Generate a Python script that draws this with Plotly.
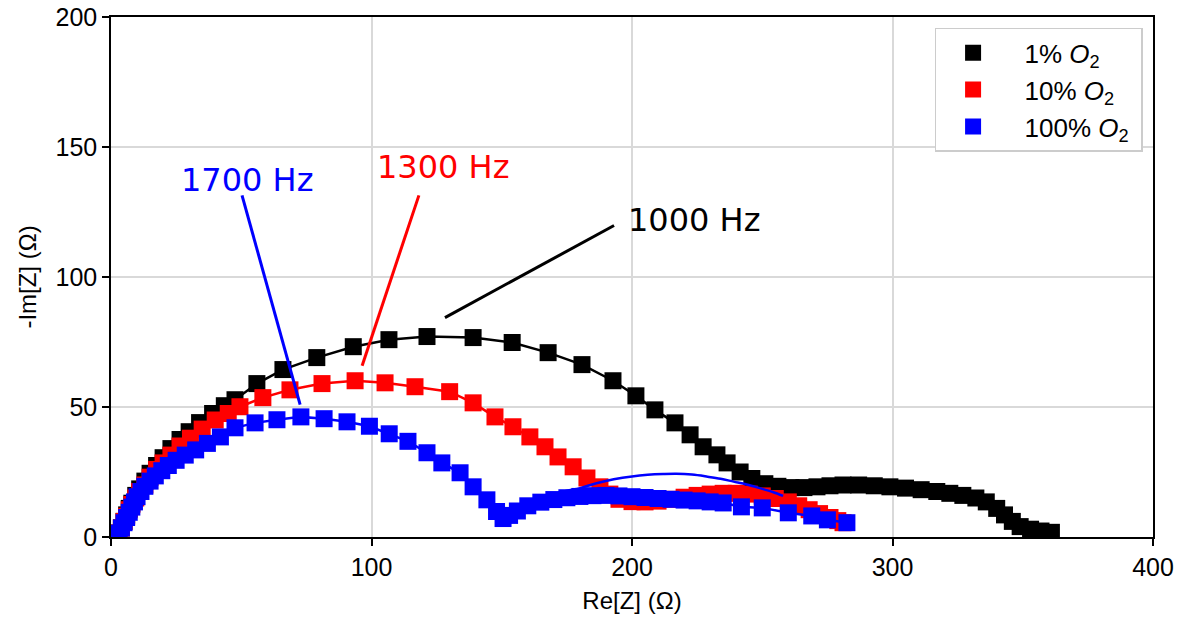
import plotly.graph_objects as go

# ---------------- data ----------------
black_x = [3, 4, 5, 6, 7, 8, 9.5, 11, 13, 15, 17.5, 20, 23, 26.5, 30, 34, 39, 43.5, 47.6, 56, 66, 79, 93,
           106.7, 121.3, 139, 154, 167.8, 180.8, 192.7, 201.5, 208.8, 216.5, 222.3, 227.3, 232.6, 236.5,
           241.5, 246, 251, 256, 261, 266, 271, 276, 281, 287, 293, 299, 305, 311, 317, 322, 327, 332,
           336, 340, 343, 346, 349, 353, 357, 361]
black_y = [1.5, 3.5, 6, 8.5, 11, 13, 16, 18.5, 21.5, 24.5, 27.5, 30.5, 34, 37.5, 40.5, 44, 47.5, 50.5, 52.8,
           59, 64.4, 69, 73.2, 75.9, 77.1, 76.7, 74.8, 70.9, 66.3, 60.1, 54.3, 48.9, 43.9, 39.3, 34.7, 31.6,
           28.5, 25, 22.5, 20.5, 19.5, 19, 19, 19.3, 19.7, 20, 20, 19.7, 19.3, 18.8, 18.2, 17.5, 16.8, 16,
           15, 13.5, 11, 8.5, 6, 4, 3, 2.3, 1.8]

red_x = [3, 4, 5, 6, 7, 8, 9.5, 11, 13, 15, 17.5, 20, 23, 26.5, 30.5, 35, 40, 45, 49.5, 58.3, 68.7, 81, 93.7,
         105.2, 116.7, 130, 139, 147.4, 154.3, 160.8, 166.6, 171.6, 177.4, 182.7, 187.7, 191.5, 195, 200,
         205, 210, 215, 220, 225, 230, 235, 240, 245, 250, 255, 260, 264, 268, 272, 276, 279, 281]
red_y = [1.5, 3.5, 6, 8, 10.5, 12.5, 15, 17.5, 20, 23, 26, 28.5, 31.5, 35, 38, 41.5, 45, 47.5, 50.1, 53.6,
         56.6, 59, 60.1, 59.3, 57.8, 55.9, 51.6, 46.2, 42.4, 38.5, 34.7, 30.8, 27, 22.7, 19.3, 16.5, 14.5,
         13.6, 13.5, 13.8, 14.5, 15.3, 16, 16.5, 16.8, 16.8, 16.5, 15.8, 14.8, 13.5, 12, 10.5, 9, 7.5,
         6.3, 5.5]

blue_x = [3, 4, 5, 6, 7, 8, 9, 10, 11.5, 13, 15, 17, 19.5, 22, 25, 28.5, 32.5, 37, 42, 47.6, 55.3, 63.7,
          72.9, 81.8, 90.6, 99.2, 106.8, 114, 121.3, 127, 134, 139, 144.3, 148, 150.5, 153, 156, 160, 165,
          170, 175, 180, 185, 190, 195, 200, 205, 210, 215, 220, 225, 230, 235, 242, 250, 260, 269, 275,
          282.5]
blue_y = [1.5, 3.5, 5.5, 7.5, 9.5, 11.5, 13.5, 15.5, 17.5, 19.5, 21.5, 23.5, 25.5, 27.5, 29.5, 31.5, 33.5,
          36, 38.5, 42, 43.9, 45.1, 46.2, 45.5, 44.3, 42.6, 39.7, 36.8, 32.4, 28.5, 24.7, 19.3, 14.3, 9.8,
          7.1, 8.3, 10, 12, 13.4, 14.4, 15.1, 15.6, 15.9, 16, 15.8, 15.5, 15.2, 14.8, 14.5, 14.2, 13.9,
          13.5, 13.1, 11.6, 11.2, 9.3, 8.1, 6.6, 5.5]

# fitted second arc for 100% O2
blue_fit_x = [150, 155, 160, 165, 170, 175, 180, 186, 193, 200, 206, 212, 217, 223, 229, 234, 239, 244,
              249, 254, 258]
blue_fit_y = [7.5, 10.5, 13, 15, 16.5, 17.8, 18.8, 20.6, 22.2, 23.3, 23.9, 24.2, 24.3, 24, 23.2, 22.4,
              21.3, 20.2, 18.8, 17.3, 15.8]

series_names = ["1% <i>O</i><sub>2</sub>", "10% <i>O</i><sub>2</sub>", "100% <i>O</i><sub>2</sub>"]
series_colors = ["#000000", "#ff0000", "#0000ff"]

# frequency annotations: label, text position, arrow start, arrow end (data units)
ann_labels = ["1700 Hz", "1300 Hz", "1000 Hz"]
ann_text_x = [52.2, 127.4, 223.8]
ann_text_y = [137.2, 142.2, 121.8]
ann_line_x0 = [50.3, 118.2, 193.1]
ann_line_y0 = [131.4, 131.4, 119.8]
ann_line_x1 = [72.6, 96.4, 128.2]
ann_line_y1 = [50.9, 65.9, 84.4]
ann_colors = ["#0000ff", "#ff0000", "#000000"]

# ---------------- figure ----------------
fig = go.Figure()
MS = 17
for xs, ys, col in [(black_x, black_y, series_colors[0]),
                    (red_x, red_y, series_colors[1]),
                    (blue_x, blue_y, series_colors[2])]:
    fig.add_trace(go.Scatter(x=xs, y=ys, mode="lines+markers",
                             line=dict(color=col, width=2.5),
                             marker=dict(symbol="square", size=MS, color=col, line=dict(width=0)),
                             showlegend=False, hoverinfo="skip"))

fig.add_trace(go.Scatter(x=blue_fit_x, y=blue_fit_y, mode="lines",
                         line=dict(color=series_colors[2], width=2.5, shape="spline"),
                         showlegend=False, hoverinfo="skip"))

# legend-only entries
for name, col in zip(series_names, series_colors):
    fig.add_trace(go.Scatter(x=[None], y=[None], mode="markers", name="&nbsp;&nbsp;" + name + "&nbsp;",
                             marker=dict(symbol="square", size=16, color=col, line=dict(width=0)),
                             legendgroup=name))

# annotation lines and labels
for i in range(len(ann_labels)):
    fig.add_trace(go.Scatter(x=[ann_line_x0[i], ann_line_x1[i]], y=[ann_line_y0[i], ann_line_y1[i]],
                             mode="lines", line=dict(color=ann_colors[i], width=3),
                             showlegend=False, hoverinfo="skip"))
    fig.add_annotation(x=ann_text_x[i], y=ann_text_y[i], text=ann_labels[i], showarrow=False,
                       xanchor="center", yanchor="middle",
                       font=dict(family="DejaVu Sans", size=32, color=ann_colors[i]))

axis_common = dict(showline=True, linecolor="black", linewidth=1.5, mirror=True,
                   ticks="outside", ticklen=7, tickwidth=1.5, tickcolor="black",
                   showgrid=True, gridcolor="#d9d9d9", gridwidth=1.5, zeroline=False,
                   automargin=False,
                   tickfont=dict(family="Liberation Sans, Arial", size=25, color="black"))

fig.update_xaxes(range=[0, 400], tickvals=[0, 100, 200, 300, 400],
                 title=dict(text="Re[Z] (Ω)", font=dict(family="Liberation Sans, Arial", size=24, color="black"),
                            standoff=12),
                 **axis_common)
fig.update_yaxes(range=[0, 200], tickvals=[0, 50, 100, 150, 200],
                 title=dict(text="-Im[Z] (Ω)", font=dict(family="Liberation Sans, Arial", size=24, color="black"),
                            standoff=12),
                 **axis_common)

fig.update_layout(
    width=1180, height=621,
    margin=dict(l=111, r=27, t=17, b=84),
    paper_bgcolor="white", plot_bgcolor="white",
    legend=dict(x=0.99, y=0.979, xanchor="right", yanchor="top",
                bgcolor="white", bordercolor="#cccccc", borderwidth=1.5,
                font=dict(family="Liberation Sans, Arial", size=26, color="black"),
                itemwidth=64, tracegroupgap=0),
    showlegend=True,
)

fig.write_html("out.html")
